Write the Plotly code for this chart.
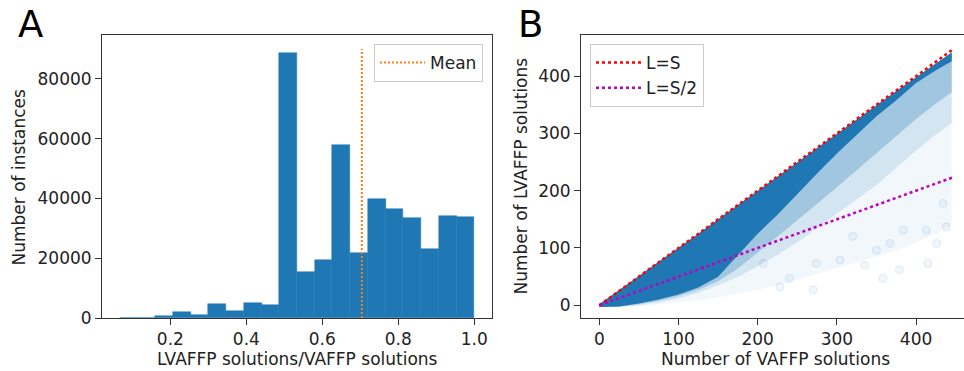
import plotly.graph_objects as go

# ---------------- Panel A: histogram of LVAFFP/VAFFP ratio ----------------
bin_start = 0.0667
bin_width = 0.04667
counts = [0, 0, 560, 2000, 900, 4570, 2230, 5020, 4240, 88590,
          15290, 19410, 57910, 21870, 39720, 36490, 33470, 23100, 34140, 33700]
mean_ratio = 0.704
mean_line_top = 90000
a_xticks = [0.2, 0.4, 0.6, 0.8, 1.0]
a_xticklabels = ["0.2", "0.4", "0.6", "0.8", "1.0"]
a_yticks = [0, 20000, 40000, 60000, 80000]
a_yticklabels = ["0", "20000", "40000", "60000", "80000"]

# ---------------- Panel B: LVAFFP vs VAFFP solutions ----------------
line_x = [0, 446]
line_full = [0, 446]
line_half = [0, 223]
cloud_x = [0, 25, 50, 75, 100, 125, 150, 175, 200, 225, 250, 275, 300, 325, 350, 375, 400, 425, 445]
cloud_top = [2, 26, 51, 76, 100, 125, 150, 175, 200, 225, 250, 275, 299, 324, 349, 374, 398, 422, 441]
dense_low = [-3, -2, 3, 10, 19, 31, 50, 88, 125, 158, 194, 230, 265, 298, 330, 358, 388, 410, 426]
strong_low = [-3, -2, 2, 8, 16, 27, 42, 64, 92, 120, 148, 177, 206, 236, 265, 295, 325, 352, 372]
medium_low = [-3, -3, 0, 5, 12, 22, 35, 50, 68, 88, 110, 135, 160, 185, 210, 240, 270, 298, 318]
faint_low = [-3, -3, -2, 1, 5, 9, 14, 20, 27, 35, 45, 55, 65, 75, 85, 95, 110, 125, 140]
outlier_x = [358, 304, 270, 379, 426, 415, 335, 240, 438, 384, 350, 320, 274, 207, 228, 413, 434, 367]
outlier_y = [47, 79, 27, 62, 108, 73, 70, 47, 137, 131, 96, 120, 73, 73, 32, 131, 178, 108]
b_ticks = [0, 100, 200, 300, 400]
b_ticklabels = ["0", "100", "200", "300", "400"]

W, H = 964, 371
FONT = "DejaVu Sans"
TXT = "#222222"
C0 = "#1f77b4"


def px_x(p):
    return p / W


def px_y(p):
    return (H - p) / H


fig = go.Figure()

# histogram bars
centers = [bin_start + (i + 0.5) * bin_width for i in range(len(counts))]
fig.add_trace(go.Bar(
    x=centers, y=counts, width=[bin_width] * len(counts),
    marker=dict(color=C0, line=dict(color=C0, width=0.5)),
    xaxis="x", yaxis="y", showlegend=False, hoverinfo="skip"))

fig.add_trace(go.Scatter(
    x=[mean_ratio, mean_ratio], y=[0, mean_line_top], mode="lines",
    line=dict(color="#ff7f0e", width=2, dash="2px,2px"),
    name="Mean", legend="legend", xaxis="x", yaxis="y"))

# scatter cloud approximated with layered density bands
for low, alpha in [(faint_low, 0.06), (medium_low, 0.14), (strong_low, 0.28), (dense_low, 1.0)]:
    fig.add_trace(go.Scatter(
        x=cloud_x + cloud_x[::-1], y=cloud_top + low[::-1],
        fill="toself", fillcolor=f"rgba(31,119,180,{alpha})",
        mode="lines", line=dict(width=0), hoverinfo="skip",
        showlegend=False, xaxis="x2", yaxis="y2"))

fig.add_trace(go.Scatter(
    x=outlier_x, y=outlier_y, mode="markers",
    marker=dict(size=8, color="rgba(31,119,180,0.06)",
                line=dict(color="rgba(31,119,180,0.12)", width=1)),
    showlegend=False, hoverinfo="skip", xaxis="x2", yaxis="y2"))

fig.add_trace(go.Scatter(
    x=line_x, y=line_full, mode="lines",
    line=dict(color="#ff0000", width=2.5, dash="3px,3px"),
    name="L=S", legend="legend2", xaxis="x2", yaxis="y2"))
fig.add_trace(go.Scatter(
    x=line_x, y=line_half, mode="lines",
    line=dict(color="#bf00bf", width=2.5, dash="3px,3px"),
    name="L=S/2", legend="legend2", xaxis="x2", yaxis="y2"))

axis_common = dict(
    showgrid=False, zeroline=False, showline=True, linecolor="#333333",
    linewidth=1, ticks="outside", ticklen=6, tickwidth=1, tickcolor="#333333",
    automargin=False,
    tickfont=dict(family=FONT, size=17, color=TXT))

ydom = [px_y(318), px_y(35)]
legend_common = dict(bgcolor="rgba(255,255,255,0.8)", bordercolor="#cccccc", borderwidth=1,
                     font=dict(family=FONT, size=17, color=TXT), itemwidth=45)
fig.update_layout(
    width=W, height=H, autosize=False,
    margin=dict(l=0, r=0, t=0, b=0, pad=0),
    paper_bgcolor="white", plot_bgcolor="white",
    font=dict(family=FONT, size=17, color=TXT),
    bargap=0,
    xaxis=dict(domain=[px_x(102), px_x(492)], range=[0.02, 1.0467], anchor="y",
               tickvals=a_xticks, ticktext=a_xticklabels, mirror=True, **axis_common),
    yaxis=dict(domain=ydom, range=[0, 94650], anchor="x",
               tickvals=a_yticks, ticktext=a_yticklabels, mirror=True, **axis_common),
    xaxis2=dict(domain=[px_x(581), 1.0], range=[-23.1, 460.5], anchor="y2",
                tickvals=b_ticks, ticktext=b_ticklabels, mirror=True, **axis_common),
    yaxis2=dict(domain=ydom, range=[-22.2, 471.7], anchor="x2",
                tickvals=b_ticks, ticktext=b_ticklabels, mirror=False, **axis_common),
    legend=dict(x=px_x(483), y=px_y(44), xanchor="right", yanchor="top", **legend_common),
    legend2=dict(x=px_x(590), y=px_y(44), xanchor="left", yanchor="top", **legend_common),
)

annotations = [
    dict(text="A", x=px_x(16), y=px_y(24), xanchor="left", yanchor="middle",
         font=dict(family=FONT, size=37, color="black")),
    dict(text="B", x=px_x(516), y=px_y(24), xanchor="left", yanchor="middle",
         font=dict(family=FONT, size=37, color="black")),
    dict(text="Number of instances", x=px_x(18.5), y=px_y(177), textangle=-90,
         xanchor="center", yanchor="middle"),
    dict(text="Number of LVAFFP solutions", x=px_x(520), y=px_y(176.5), textangle=-90,
         xanchor="center", yanchor="middle"),
    dict(text="LVAFFP solutions/VAFFP solutions", x=px_x(297), y=px_y(359),
         xanchor="center", yanchor="middle"),
    dict(text="Number of VAFFP solutions", x=px_x(775.5), y=px_y(359),
         xanchor="center", yanchor="middle"),
]
for a in annotations:
    a.update(xref="paper", yref="paper", showarrow=False)
    a.setdefault("font", dict(family=FONT, size=17, color=TXT))
fig.update_layout(annotations=annotations)

fig.write_html("out.html", config={"displayModeBar": False})

# remove the browser's default page margin so the figure sits at (0, 0)
with open("out.html", "r", encoding="utf-8") as f:
    html = f.read()
html = html.replace("<head>", "<head><style>html,body{margin:0;padding:0;overflow:hidden;}</style>", 1)
with open("out.html", "w", encoding="utf-8") as f:
    f.write(html)
